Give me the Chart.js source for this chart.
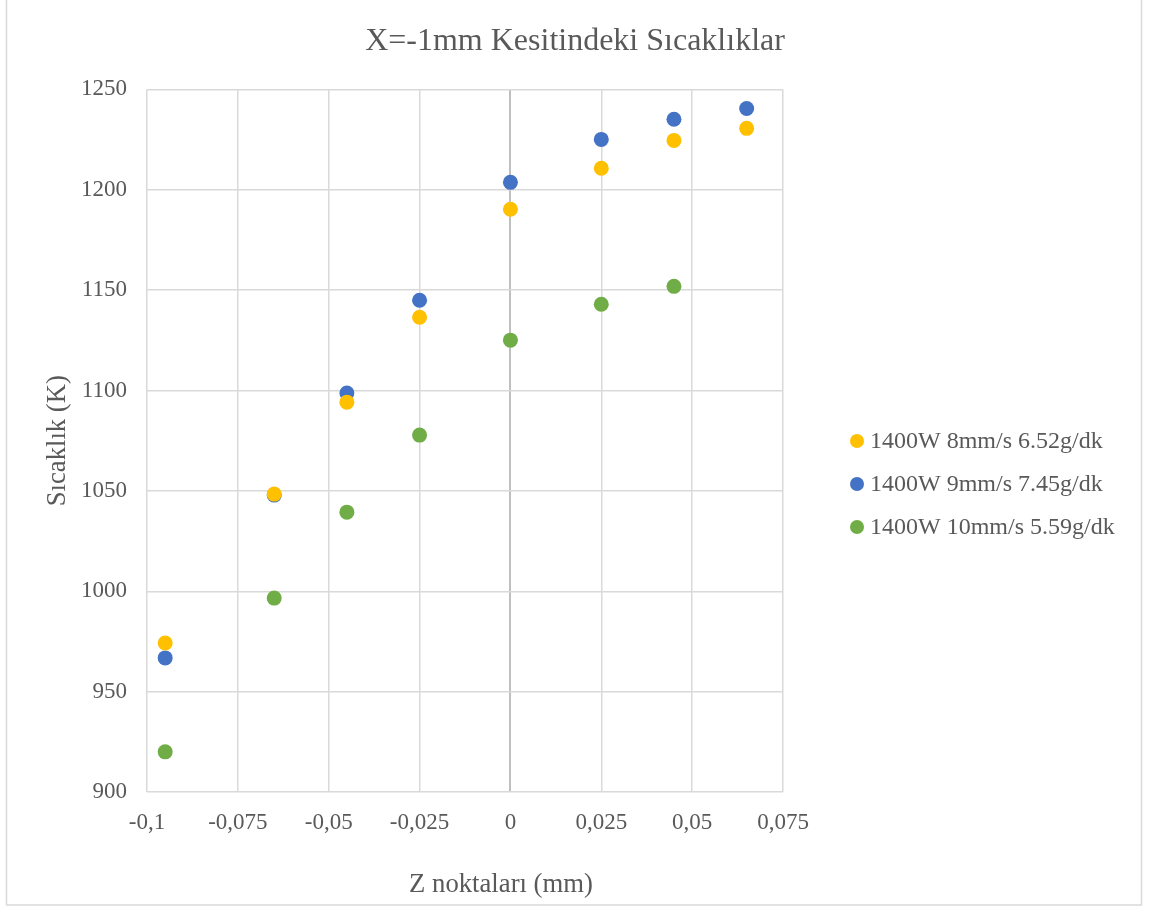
<!DOCTYPE html>
<html>
<head>
<meta charset="utf-8">
<script src="https://cdn.jsdelivr.net/npm/chart.js@4/dist/chart.umd.min.js"></script>
<style>
  html, body { margin: 0; padding: 0; background: #fff; }
  #wrap { position: relative; width: 1150px; height: 909px; }
</style>
</head>
<body>
<div id="wrap"><canvas id="tempChart" width="1150" height="909"></canvas></div>
<script>
// Z points (mm) and temperatures (K)
const zPoints = [-0.095, -0.065, -0.045, -0.025, 0, 0.025, 0.045, 0.065];
const temps8mm = [974.2, 1048.4, 1094.2, 1136.5, 1190.3, 1210.7, 1224.6, 1230.6];
const temps9mm = [966.8, 1047.9, 1098.7, 1145.0, 1203.7, 1225.1, 1235.1, 1240.5];
const temps10mm = [920.0, 996.6, 1039.4, 1077.8, 1125.1, 1143.0, 1151.9];
const seriesNames = ["1400W 8mm/s 6.52g/dk", "1400W 9mm/s 7.45g/dk", "1400W 10mm/s 5.59g/dk"];
const seriesColors = ["#ffc000", "#4472c4", "#70ad47"];
const xTicks = [-0.1, -0.075, -0.05, -0.025, 0, 0.025, 0.05, 0.075];
const yTicks = [900, 950, 1000, 1050, 1100, 1150, 1200, 1250];
const xTitle = "Z noktaları (mm)";

const FONT = "'Liberation Serif', 'Times New Roman', serif";
const TEXT = "#595959";

function toPoints(values) {
  return values.map((v, i) => ({ x: zPoints[i], y: v }));
}

// frame around the whole chart + x axis title
const framePlugin = {
  id: "frame",
  beforeDraw(chart) {
    const ctx = chart.ctx;
    ctx.save();
    ctx.strokeStyle = "#d9d9d9";
    ctx.lineWidth = 1.5;
    ctx.strokeRect(6.5, -3, 1135, 908);
    ctx.restore();
  },
  afterDraw(chart) {
    const ctx = chart.ctx;
    ctx.save();
    ctx.font = "26.7px " + FONT;
    ctx.fillStyle = TEXT;
    ctx.textAlign = "center";
    ctx.textBaseline = "middle";
    ctx.fillText(xTitle, 501, 885);
    ctx.restore();
  }
};

// legend on the right, drawn by hand
const legendPlugin = {
  id: "sideLegend",
  afterDraw(chart) {
    const ctx = chart.ctx;
    ctx.save();
    ctx.font = "24px " + FONT;
    ctx.textBaseline = "middle";
    ctx.textAlign = "left";
    seriesNames.forEach((name, i) => {
      const y = 441 + i * 43;
      ctx.fillStyle = seriesColors[i];
      ctx.beginPath();
      ctx.arc(857, y, 7, 0, Math.PI * 2);
      ctx.fill();
      ctx.fillStyle = TEXT;
      ctx.fillText(name, 870, y + 1);
    });
    ctx.restore();
  }
};

const ctx = document.getElementById("tempChart");
new Chart(ctx, {
  type: "scatter",
  data: {
    datasets: [
      { label: seriesNames[0], data: toPoints(temps8mm), backgroundColor: seriesColors[0] },
      { label: seriesNames[1], data: toPoints(temps9mm), backgroundColor: seriesColors[1] },
      { label: seriesNames[2], data: toPoints(temps10mm), backgroundColor: seriesColors[2] }
    ]
  },
  options: {
    responsive: false,
    animation: false,
    devicePixelRatio: 1,
    layout: { padding: 0 },
    elements: { point: { radius: 7.5, borderWidth: 0, hoverRadius: 7.5 } },
    plugins: {
      legend: { display: false },
      tooltip: { enabled: false },
      title: {
        display: true,
        text: "X=-1mm Kesitindeki Sıcaklıklar",
        color: TEXT,
        font: { family: FONT, size: 32, weight: "normal" },
        padding: { top: 22, bottom: 29 }
      }
    },
    scales: {
      x: {
        type: "linear",
        min: -0.1,
        max: 0.075,
        afterBuildTicks: (scale) => { scale.ticks = xTicks.map(v => ({ value: v })); },
        afterFit: (scale) => { scale.height = 117; },
        ticks: {
          color: TEXT,
          font: { family: FONT, size: 23 },
          padding: 17,
          maxRotation: 0,
          callback: (v) => String(Math.round(v * 1000) / 1000).replace(".", ",")
        },
        grid: {
          drawTicks: false,
          color: (c) => (c.tick && c.tick.value === 0 ? "#bfbfbf" : "#d9d9d9"),
          lineWidth: (c) => (c.tick && c.tick.value === 0 ? 2 : 1.5)
        },
        border: { display: false }
      },
      y: {
        min: 900,
        max: 1250,
        afterBuildTicks: (scale) => { scale.ticks = yTicks.map(v => ({ value: v })); },
        afterFit: (scale) => { scale.width = 147; },
        ticks: {
          color: TEXT,
          font: { family: FONT, size: 23 },
          padding: 20,
          callback: (v) => String(v)
        },
        grid: { drawTicks: false, color: "#d9d9d9", lineWidth: 1.5 },
        border: { display: false },
        title: {
          display: true,
          text: "Sıcaklık (K)",
          color: TEXT,
          font: { family: FONT, size: 26.7 },
          padding: { top: 42, bottom: 0 }
        }
      },
      // empty axis on the right that keeps room for the legend
      legendSpace: {
        type: "linear",
        position: "right",
        min: 900,
        max: 1250,
        afterFit: (scale) => { scale.width = 367; },
        ticks: { display: false },
        grid: { display: false, drawOnChartArea: false },
        border: { display: false }
      }
    }
  },
  plugins: [framePlugin, legendPlugin]
});
</script>
</body>
</html>
